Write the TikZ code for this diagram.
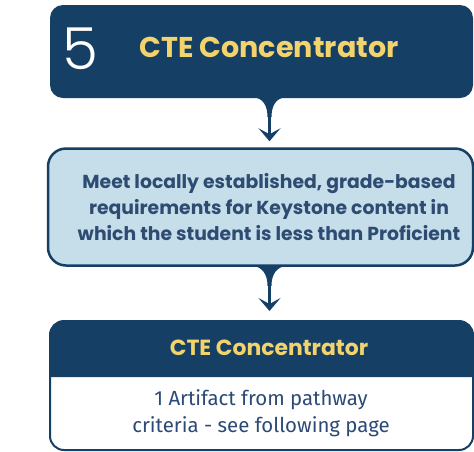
\documentclass[tikz,border=0pt]{standalone}
\usepackage{fontspec}
\setmainfont{Poppins}
\newfontfamily\bodyfont{Fira Sans}
\newfontfamily\lightfont{Poppins Light}
\usetikzlibrary{arrows.meta,calc}
\definecolor{navy}{HTML}{163F66}
\definecolor{ltblue}{HTML}{C6DEEA}
\definecolor{ctey}{HTML}{F3D36B}
\definecolor{midtext}{HTML}{2E4B72}
\definecolor{bodytext}{HTML}{2C4A76}
\tikzset{
  navybox/.style={fill=navy, rounded corners=13pt, inner sep=0pt},
  midbox/.style={fill=ltblue, draw=navy, line width=2.5pt, rounded corners=18pt, inner sep=0pt},
  botbox/.style={fill=white, draw=navy, line width=2pt, rounded corners=14pt, inner sep=0pt},
  conn/.style={draw=navy, line width=3pt, -{Stealth[length=13pt,width=22pt,inset=6pt]}},
  funnelfill/.style={fill=navy}
}
\begin{document}
\begin{tikzpicture}[x=1pt,y=-1pt]
\useasboundingbox (0,0) rectangle (474,451);
% top box
\node[navybox, minimum width=423pt, minimum height=93pt] (top) at (261.5,51.5) {};
\node[text=white, font=\lightfont\fontsize{58}{58}\selectfont] (num) at (80.5,49) {5};
\node[text=ctey, font=\bfseries\fontsize{28.6}{32}\selectfont] (title) at (269,47) {CTE Concentrator};
% middle box
\node[midbox, minimum width=425pt, minimum height=117pt] (mid) at (260.5,207) {};
\node[text=midtext, font=\bfseries\fontsize{18.8}{26}\selectfont, align=center] (midtxt) at (269,207)
  {Meet locally established, grade-based\\requirements for Keystone content in\\which the student is less than Proficient};
% bottom box
\node[botbox, minimum width=423pt, minimum height=129pt] (bot) at (261.5,385.5) {};
\fill[navy] ($(bot.north west)+(1,57)$) [rounded corners=13pt] -- ($(bot.north west)+(1,1)$) -- ($(bot.north east)+(-1,1)$) [sharp corners] -- ($(bot.north east)+(-1,57)$) -- cycle;
\node[text=ctey, font=\bfseries\fontsize{21.9}{24}\selectfont] (bothead) at (269,348) {CTE Concentrator};
\node[text=bodytext, font=\bodyfont\fontsize{20.4}{27}\selectfont, align=center] (bodytxt) at (261,413)
  {1 Artifact from pathway\\criteria - see following page};
% connector 1
\coordinate (c1) at ([xshift=8pt]top.south);
\fill[navy] ($(c1)+(-18,-1)$) .. controls +(12,0) and +(0,-11) .. ($(c1)+(-2,19)$) -- ($(c1)+(2,19)$) .. controls +(0,-11) and +(-12,0) .. ($(c1)+(18,-1)$) -- cycle;
\draw[conn, shorten >=6pt] (c1) -- (c1 |- mid.north);
% connector 2
\coordinate (c2) at (c1 |- mid.south);
\fill[navy] ($(c2)+(-19,-1)$) .. controls +(12,0) and +(0,-11) .. ($(c2)+(-2,19)$) -- ($(c2)+(2,19)$) .. controls +(0,-11) and +(-12,0) .. ($(c2)+(19,-1)$) -- cycle;
\draw[conn, shorten >=9pt] (c2) -- (c2 |- bot.north);
\end{tikzpicture}
\end{document}
